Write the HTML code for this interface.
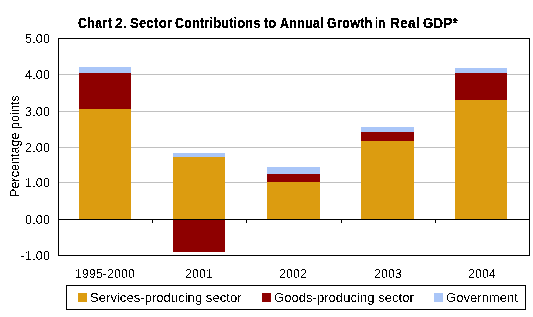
<!DOCTYPE html>
<html><head><meta charset="utf-8">
<style>
html,body{margin:0;padding:0;background:#fff;}
body{width:533px;height:317px;overflow:hidden;position:relative;font-family:"Liberation Sans",sans-serif;}
svg{position:absolute;left:0;top:0;}
.t{position:absolute;white-space:nowrap;color:#000;line-height:1;filter:url(#crisp);}
.yl{left:0;width:50px;text-align:right;font-size:12.5px;letter-spacing:0.15px;}
.xl{top:268px;width:120px;text-align:center;font-size:12.2px;letter-spacing:0.2px;}
.tw{position:absolute;top:16px;font-size:13.5px;font-weight:bold;letter-spacing:0.4px;transform-origin:0 0;filter:url(#crispb);}
.lg{top:291px;font-size:13px;letter-spacing:0.05px;}
</style></head><body>
<svg width="0" height="0" style="position:absolute"><filter id="crisp" x="-10%" y="-10%" width="120%" height="120%"><feComponentTransfer><feFuncA type="discrete" tableValues="0 1"/></feComponentTransfer></filter><filter id="crispr" x="-10%" y="-10%" width="120%" height="120%"><feComponentTransfer><feFuncA type="discrete" tableValues="0 1 1"/></feComponentTransfer></filter><filter id="crispb" x="-10%" y="-10%" width="120%" height="120%"><feComponentTransfer><feFuncA type="discrete" tableValues="0 1 1"/></feComponentTransfer></filter></svg>
<svg id="chart" width="533" height="317" viewBox="0 0 533 317" shape-rendering="crispEdges">
  <g fill="#c0c0c0">
    <rect x="59" y="74" width="470" height="1"/>
    <rect x="59" y="111" width="470" height="1"/>
    <rect x="59" y="147" width="470" height="1"/>
    <rect x="59" y="182" width="470" height="1"/>
  </g>
  <g fill="#dc9c10">
    <rect x="79" y="109" width="52" height="110"/>
    <rect x="173" y="157" width="52" height="62"/>
    <rect x="267" y="182" width="53" height="37"/>
    <rect x="361" y="141" width="53" height="78"/>
    <rect x="455" y="100" width="52" height="119"/>
  </g>
  <g fill="#8e0000">
    <rect x="79" y="73" width="52" height="36"/>
    <rect x="173" y="220" width="52" height="32"/>
    <rect x="267" y="174" width="53" height="8"/>
    <rect x="361" y="132" width="53" height="9"/>
    <rect x="455" y="73" width="52" height="27"/>
  </g>
  <g fill="#aac6f8">
    <rect x="79" y="67" width="52" height="6"/>
    <rect x="173" y="153" width="52" height="4"/>
    <rect x="267" y="167" width="53" height="7"/>
    <rect x="361" y="127" width="53" height="5"/>
    <rect x="455" y="68" width="52" height="5"/>
  </g>
  <g fill="#000">
    <rect x="58" y="219" width="471" height="1"/>
    <rect x="152" y="219" width="1" height="4"/>
    <rect x="246" y="219" width="1" height="4"/>
    <rect x="341" y="219" width="1" height="4"/>
    <rect x="435" y="219" width="1" height="4"/>
  </g>
  <rect x="58.5" y="38.5" width="471" height="217" fill="none" stroke="#000" stroke-width="1"/>
  <rect x="66.5" y="285.5" width="459" height="24" fill="none" stroke="#000" stroke-width="1"/>
  <rect x="78" y="293" width="9" height="9" fill="#dc9c10"/>
  <rect x="262" y="293" width="9" height="9" fill="#8e0000"/>
  <rect x="434" y="293" width="9" height="9" fill="#aac6f8"/>
</svg>
<div id="title" class="t" style="left:0;top:0;width:533px;height:40px;"><span class="tw" style="left:78px;transform:scale(0.9189,1.06);">Chart</span><span class="tw" style="left:115px;transform:scale(1.0,1.06);">2.</span><span class="tw" style="left:130px;transform:scale(0.9545,1.06);">Sector</span><span class="tw" style="left:175px;transform:scale(0.914,1.06);">Contributions</span><span class="tw" style="left:264px;transform:scale(0.9231,1.06);">to</span><span class="tw" style="left:280px;transform:scale(0.9149,1.06);">Annual</span><span class="tw" style="left:327px;transform:scale(0.9184,1.06);">Growth</span><span class="tw" style="left:375px;transform:scale(0.8182,1.06);">in</span><span class="tw" style="left:390px;transform:scale(1.0,1.06);">Real</span><span class="tw" style="left:423px;transform:scale(0.9722,1.06);">GDP*</span></div>
<div id="y5" class="t yl" style="top:33px;">5.00</div>
<div id="y4" class="t yl" style="top:69px;">4.00</div>
<div id="y3" class="t yl" style="top:106px;">3.00</div>
<div id="y2" class="t yl" style="top:142px;">2.00</div>
<div id="y1" class="t yl" style="top:177px;">1.00</div>
<div id="y0" class="t yl" style="top:214px;">0.00</div>
<div id="ym" class="t yl" style="top:250px;">-1.00</div>
<div id="yt" class="t" style="left:9px;top:97px;height:100px;text-align:center;font-size:12.5px;letter-spacing:0.06px;writing-mode:vertical-rl;transform:rotate(180deg);">Percentage points</div>
<div id="x1" class="t xl" style="left:45px;">1995-2000</div>
<div id="x2" class="t xl" style="left:139px;">2001</div>
<div id="x3" class="t xl" style="left:233px;">2002</div>
<div id="x4" class="t xl" style="left:328px;">2003</div>
<div id="x5" class="t xl" style="left:422px;">2004</div>
<div id="l1" class="t lg" style="left:90px;">Services-producing sector</div>
<div id="l2" class="t lg" style="left:274px;">Goods-producing sector</div>
<div id="l3" class="t lg" style="left:446px;">Government</div>
</body></html>
